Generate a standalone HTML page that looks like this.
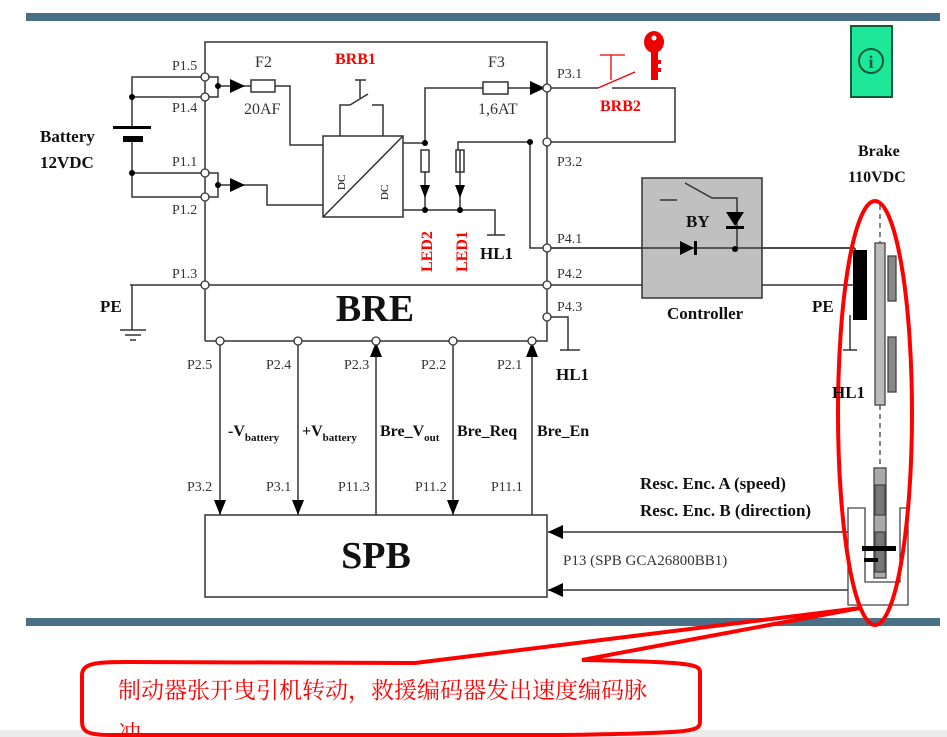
<!DOCTYPE html>
<html><head><meta charset="utf-8"><style>
body{margin:0;background:#fff;}
svg{display:block;font-family:"Liberation Serif","Noto Serif CJK SC",serif;}
.t{font-size:14px;fill:#333;}
.b{font-weight:bold;fill:#111;}
</style></head><body>
<svg width="947" height="737" viewBox="0 0 947 737" xmlns="http://www.w3.org/2000/svg">
<rect x="26" y="13" width="914" height="8" fill="#4a7088"/>
<rect x="26" y="618" width="914" height="8" fill="#4a7088"/>
<rect x="0" y="730" width="947" height="7" fill="#ececec"/>
<g stroke="#333" stroke-width="1.5" fill="none">
<path d="M205,341 V42 H547 V341 H205"/>
<path d="M205,77 H132 V127 M132,140 V197 H205 M132,97 H205 M132,173 H205"/>
<path d="M205,77 H218 V97 H205 M205,173 H218 V197 H205"/>
<path d="M218,86 H251 M275,86 H290 V145 H323 M218,185 H267 V205 H323"/>
<rect x="251" y="80" width="24" height="12"/>
<rect x="323" y="136" width="80" height="81"/>
<path d="M323,217 L403,136"/>
<path d="M340,136 V105 H350 M372,105 H383 V136"/>
<path d="M350,105 L368,94 M360,98 V80 M355,80 H366" />
<path d="M403,143 H425 V88 H483 M508,88 H547"/>
<rect x="483" y="82" width="25" height="12"/>
<path d="M547,88 H598 M612,88 H675 V142 H547"/>
<path d="M530,142 H458 V150"/>
<rect x="421" y="150" width="8" height="22"/><rect x="456" y="150" width="8" height="22"/>
<path d="M425,172 V210 M460,150 V210 M403,210 H495 V235 M487,235 H505"/>
<path d="M530,142 V248 H547 M547,248 H855 M130,285 H850 M132,285 V330 M120,330 H146 M125,335 H141 M130,340 H136"/>
<path d="M547,317 H568 V350 M560,350 H580"/>
<path d="M220,341 V515 M298,341 V515 M376,341 V515 M453,341 V515 M532,341 V515"/>
<rect x="205" y="515" width="342" height="82"/>
<path d="M855,532 H548 M855,590 H548"/>
<rect x="642" y="178" width="120" height="120" fill="#c0c0c0"/>
<path d="M660,200 H677 M685,183 L712,198 H737 V248 M547,248 H855"/>
<path d="M855,248 V300 H858 M850,285 H858 M850,315 V350 M843,350 H857"/>
</g>
<g fill="#000">
<path d="M230,79 L245,86 L230,93 z"/><path d="M230,178 L245,185 L230,192 z"/>
<path d="M530,81 L545,88 L530,95 z"/>
<circle cx="218" cy="86" r="3"/><circle cx="218" cy="185" r="3"/><circle cx="132" cy="97" r="3"/><circle cx="132" cy="173" r="3"/>
<circle cx="425" cy="143" r="3"/><circle cx="425" cy="210" r="3"/><circle cx="460" cy="210" r="3"/><circle cx="530" cy="142" r="3"/>
<circle cx="735" cy="249" r="3"/>
<rect x="113" y="126" width="38" height="3"/><rect x="123" y="136" width="20" height="6"/>
<path d="M420,185 H430 L425,198 z"/><path d="M455,185 H465 L460,198 z"/>
<path d="M214,500 H226 L220,515 z M292,500 H304 L298,515 z M447,500 H459 L453,515 z"/>
<path d="M370,357 H382 L376,342 z M526,357 H538 L532,342 z"/>
<path d="M563,525 L548,532 L563,539 z M563,583 L548,590 L563,597 z"/>
<path d="M680,241 L694,248 L680,255 z"/><rect x="694" y="241" width="3" height="14"/>
<path d="M726,212 H744 L735,226 z"/><rect x="726" y="226" width="18" height="3"/>
<rect x="853" y="250" width="14" height="70"/>
</g>
<g fill="#fff" stroke="#333" stroke-width="1.3">
<circle cx="205" cy="77" r="4"/><circle cx="205" cy="97" r="4"/><circle cx="205" cy="173" r="4"/><circle cx="205" cy="197" r="4"/><circle cx="205" cy="285" r="4"/>
<circle cx="547" cy="88" r="4"/><circle cx="547" cy="142" r="4"/><circle cx="547" cy="248" r="4"/><circle cx="547" cy="285" r="4"/><circle cx="547" cy="317" r="4"/>
<circle cx="220" cy="341" r="4"/><circle cx="298" cy="341" r="4"/><circle cx="376" cy="341" r="4"/><circle cx="453" cy="341" r="4"/><circle cx="532" cy="341" r="4"/>
</g>
<g stroke="#e00" stroke-width="1.3"><path d="M598,88 L635,72 M611,80 V55 M600,55 H625"/></g>
<g fill="#e00">
<ellipse cx="654" cy="42" rx="10" ry="11"/>
<rect x="651" y="50" width="7" height="30"/>
<rect x="656" y="60" width="5" height="4"/><rect x="656" y="68" width="5" height="4"/>
</g>
<circle cx="654" cy="38" r="2.5" fill="#fff"/>
<rect x="851" y="26" width="41" height="71" fill="#1de89a" stroke="#145a3a" stroke-width="2"/>
<circle cx="871" cy="61" r="12" fill="none" stroke="#145a3a" stroke-width="2"/>
<text x="871" y="68" font-size="18" text-anchor="middle" fill="#145a3a" font-weight="bold">i</text>
<g stroke="#444" stroke-width="1.3">
<rect x="875" y="243" width="10" height="162" fill="#bbb"/>
<rect x="888" y="256" width="8" height="45" fill="#888"/><rect x="888" y="337" width="8" height="55" fill="#888"/>
<path d="M880,205 V243 M880,405 V470" stroke-dasharray="5,4" fill="none"/>
<path d="M848,508 V605 H908 V508 H900 V582 H865 V508 Z" fill="#fff"/>
<rect x="874" y="468" width="12" height="110" fill="#aaa"/>
<rect x="875" y="485" width="10" height="30" fill="#777"/><rect x="875" y="532" width="10" height="40" fill="#777"/>
</g>
<rect x="862" y="546" width="34" height="5" fill="#000"/><rect x="864" y="558" width="14" height="4" fill="#000"/>
<ellipse cx="875" cy="413" rx="37" ry="212" fill="none" stroke="#f00" stroke-width="4"/>
<path d="M415,663 L860,608 L582,660 C690,662 700,664 700,672 V722 C700,732 690,733 560,735 H110 C84,735 82,730 82,720 V675 C82,662 100,662 130,662 Z" fill="#fff" stroke="#f00" stroke-width="4"/>
<text x="118" y="698" font-size="23" fill="#f00">制动器张开曳引机转动，救援编码器发出速度编码脉</text>
<text x="118" y="741" font-size="23" fill="#f00">冲</text>
<path d="M110,735 H560" stroke="#f00" stroke-width="4"/>
<rect x="0" y="737" width="947" height="1" fill="#ececec"/>
<g class="t">
<text x="172" y="70">P1.5</text><text x="172" y="112">P1.4</text><text x="172" y="166">P1.1</text><text x="172" y="214">P1.2</text><text x="172" y="278">P1.3</text>
<text x="255" y="67" font-size="16">F2</text><text x="244" y="114" font-size="16">20AF</text>
<text x="488" y="67" font-size="16">F3</text><text x="478" y="114" font-size="16">1,6AT</text>
<text x="557" y="78">P3.1</text><text x="557" y="166">P3.2</text><text x="557" y="243">P4.1</text><text x="557" y="278">P4.2</text><text x="557" y="311">P4.3</text>
<text x="187" y="369">P2.5</text><text x="266" y="369">P2.4</text><text x="344" y="369">P2.3</text><text x="421" y="369">P2.2</text><text x="497" y="369">P2.1</text>
<text x="187" y="491">P3.2</text><text x="266" y="491">P3.1</text><text x="338" y="491">P11.3</text><text x="415" y="491">P11.2</text><text x="491" y="491">P11.1</text>
<text x="563" y="565" font-size="15">P13 (SPB GCA26800BB1)</text>
</g>
<g class="b">
<text x="40" y="142" font-size="17">Battery</text><text x="40" y="168" font-size="17">12VDC</text>
<text x="375" y="321" font-size="38" text-anchor="middle">BRE</text>
<text x="376" y="568" font-size="38" text-anchor="middle">SPB</text>
<text x="100" y="312" font-size="17">PE</text>
<text x="480" y="259" font-size="17">HL1</text><text x="556" y="380" font-size="17">HL1</text><text x="832" y="398" font-size="17">HL1</text>
<text x="812" y="312" font-size="17">PE</text>
<text x="667" y="319" font-size="17">Controller</text>
<text x="686" y="227" font-size="17">BY</text>
<text x="858" y="156" font-size="16">Brake</text><text x="848" y="182" font-size="16">110VDC</text>
<text x="640" y="489" font-size="17">Resc. Enc. A (speed)</text><text x="640" y="516" font-size="17">Resc. Enc. B (direction)</text>
<text x="228" y="436" font-size="16">-V<tspan font-size="11" dy="5">battery</tspan></text>
<text x="302" y="436" font-size="16">+V<tspan font-size="11" dy="5">battery</tspan></text>
<text x="380" y="436" font-size="16">Bre_V<tspan font-size="11" dy="5">out</tspan></text>
<text x="457" y="436" font-size="16">Bre_Req</text>
<text x="537" y="436" font-size="16">Bre_En</text>
</g>
<g font-weight="bold" fill="#f00" font-size="16">
<text x="335" y="64">BRB1</text><text x="600" y="111">BRB2</text>
<text transform="translate(432,272) rotate(-90)">LED2</text>
<text transform="translate(467,272) rotate(-90)">LED1</text>
</g>
<g font-size="11" fill="#000">
<text transform="translate(345,190) rotate(-90)">DC</text>
<text transform="translate(388,200) rotate(-90)">DC</text>
</g>
</svg>
</body></html>
